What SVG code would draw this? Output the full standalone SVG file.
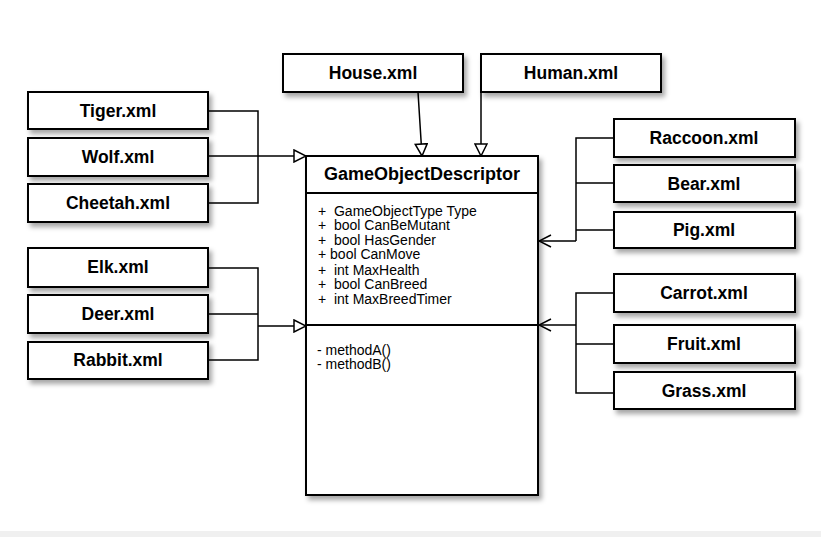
<svg xmlns="http://www.w3.org/2000/svg" width="821" height="537" viewBox="0 0 821 537">
<style>
.box{fill:#fff;stroke:#000;stroke-width:2;filter:url(#sh)}
.lbl{font-family:"Liberation Sans",Arial,sans-serif;font-size:17.5px;font-weight:bold;text-anchor:middle;fill:#000}
.attr{font-family:"Liberation Sans",Arial,sans-serif;font-size:14px;fill:#000;white-space:pre}
.ln{fill:none;stroke:#000;stroke-width:1.5}
</style>
<defs>
<filter id="sh" x="-10%" y="-20%" width="130%" height="160%">
<feDropShadow dx="3" dy="4" stdDeviation="2.5" flood-color="#000" flood-opacity="0.35"/>
</filter>
<marker id="tri" viewBox="0 0 14 14" refX="13" refY="7" markerWidth="14" markerHeight="14" markerUnits="userSpaceOnUse" orient="auto">
<path d="M1,1 L13,7 L1,13 Z" fill="#fff" stroke="#000" stroke-width="1.5"/>
</marker>
<marker id="open" viewBox="0 0 14 14" refX="13" refY="7" markerWidth="14" markerHeight="14" markerUnits="userSpaceOnUse" orient="auto">
<path d="M1,1 L13,7 L1,13" fill="none" stroke="#000" stroke-width="1.5"/>
</marker>
</defs>
<rect x="0" y="0" width="821" height="537" fill="#fff"/>
<rect x="0" y="531" width="821" height="6" fill="#f0f0f0"/>

<g id="connectors">
<path class="ln" d="M208,111 H258 V203 H208 M208,156 H306" marker-end="url(#tri)"/>
<path class="ln" d="M208,268 H258 V360 H208 M208,314 H258 M258,326 H306" marker-end="url(#tri)"/>
<path class="ln" d="M418,92 L422,156" marker-end="url(#tri)"/>
<path class="ln" d="M481,92 V156" marker-end="url(#tri)"/>
<path class="ln" d="M614,138 H576 V241 M614,183 H576 M614,230 H576 M576,241 H539" marker-end="url(#open)"/>
<path class="ln" d="M614,293 H576 V393 H614 M614,344 H576 M576,325 H539" marker-end="url(#open)"/>
</g>

<g id="GameObjectDescriptor">
<rect class="box" x="306" y="156" width="232" height="339"/>
<line x1="306" y1="193" x2="538" y2="193" stroke="#000" stroke-width="2"/>
<line x1="306" y1="325" x2="538" y2="325" stroke="#000" stroke-width="2"/>
<text class="lbl" x="422" y="180" style="font-size:18px">GameObjectDescriptor</text>
<text class="attr" x="318" y="216" xml:space="preserve">+  GameObjectType Type</text>
<text class="attr" x="318" y="230" xml:space="preserve">+  bool CanBeMutant</text>
<text class="attr" x="318" y="245" xml:space="preserve">+  bool HasGender</text>
<text class="attr" x="318" y="259" xml:space="preserve">+ bool CanMove</text>
<text class="attr" x="318" y="275" xml:space="preserve">+  int MaxHealth</text>
<text class="attr" x="318" y="289" xml:space="preserve">+  bool CanBreed</text>
<text class="attr" x="318" y="304" xml:space="preserve">+  int MaxBreedTimer</text>
<text class="attr" x="317" y="355">- methodA()</text>
<text class="attr" x="317" y="369">- methodB()</text>
</g>

<g id="House"><rect class="box" x="283" y="54" width="180" height="38"/><text class="lbl" x="373" y="79">House.xml</text></g>
<g id="Human"><rect class="box" x="481" y="54" width="180" height="38"/><text class="lbl" x="571" y="79">Human.xml</text></g>

<g id="Tiger"><rect class="box" x="28" y="92" width="180" height="37"/><text class="lbl" x="118" y="117">Tiger.xml</text></g>
<g id="Wolf"><rect class="box" x="28" y="138" width="180" height="38"/><text class="lbl" x="118" y="163">Wolf.xml</text></g>
<g id="Cheetah"><rect class="box" x="28" y="184" width="180" height="38"/><text class="lbl" x="118" y="209">Cheetah.xml</text></g>
<g id="Elk"><rect class="box" x="28" y="248" width="180" height="39"/><text class="lbl" x="118" y="273">Elk.xml</text></g>
<g id="Deer"><rect class="box" x="28" y="295" width="180" height="38"/><text class="lbl" x="118" y="320">Deer.xml</text></g>
<g id="Rabbit"><rect class="box" x="28" y="342" width="180" height="37"/><text class="lbl" x="118" y="366">Rabbit.xml</text></g>

<g id="Raccoon"><rect class="box" x="614" y="119" width="181" height="38"/><text class="lbl" x="704" y="144">Raccoon.xml</text></g>
<g id="Bear"><rect class="box" x="614" y="165" width="181" height="37"/><text class="lbl" x="704" y="190">Bear.xml</text></g>
<g id="Pig"><rect class="box" x="614" y="212" width="181" height="36"/><text class="lbl" x="704" y="236">Pig.xml</text></g>
<g id="Carrot"><rect class="box" x="614" y="274" width="181" height="38"/><text class="lbl" x="704" y="299">Carrot.xml</text></g>
<g id="Fruit"><rect class="box" x="614" y="325" width="181" height="38"/><text class="lbl" x="704" y="350">Fruit.xml</text></g>
<g id="Grass"><rect class="box" x="614" y="372" width="181" height="37"/><text class="lbl" x="704" y="397">Grass.xml</text></g>
</svg>
